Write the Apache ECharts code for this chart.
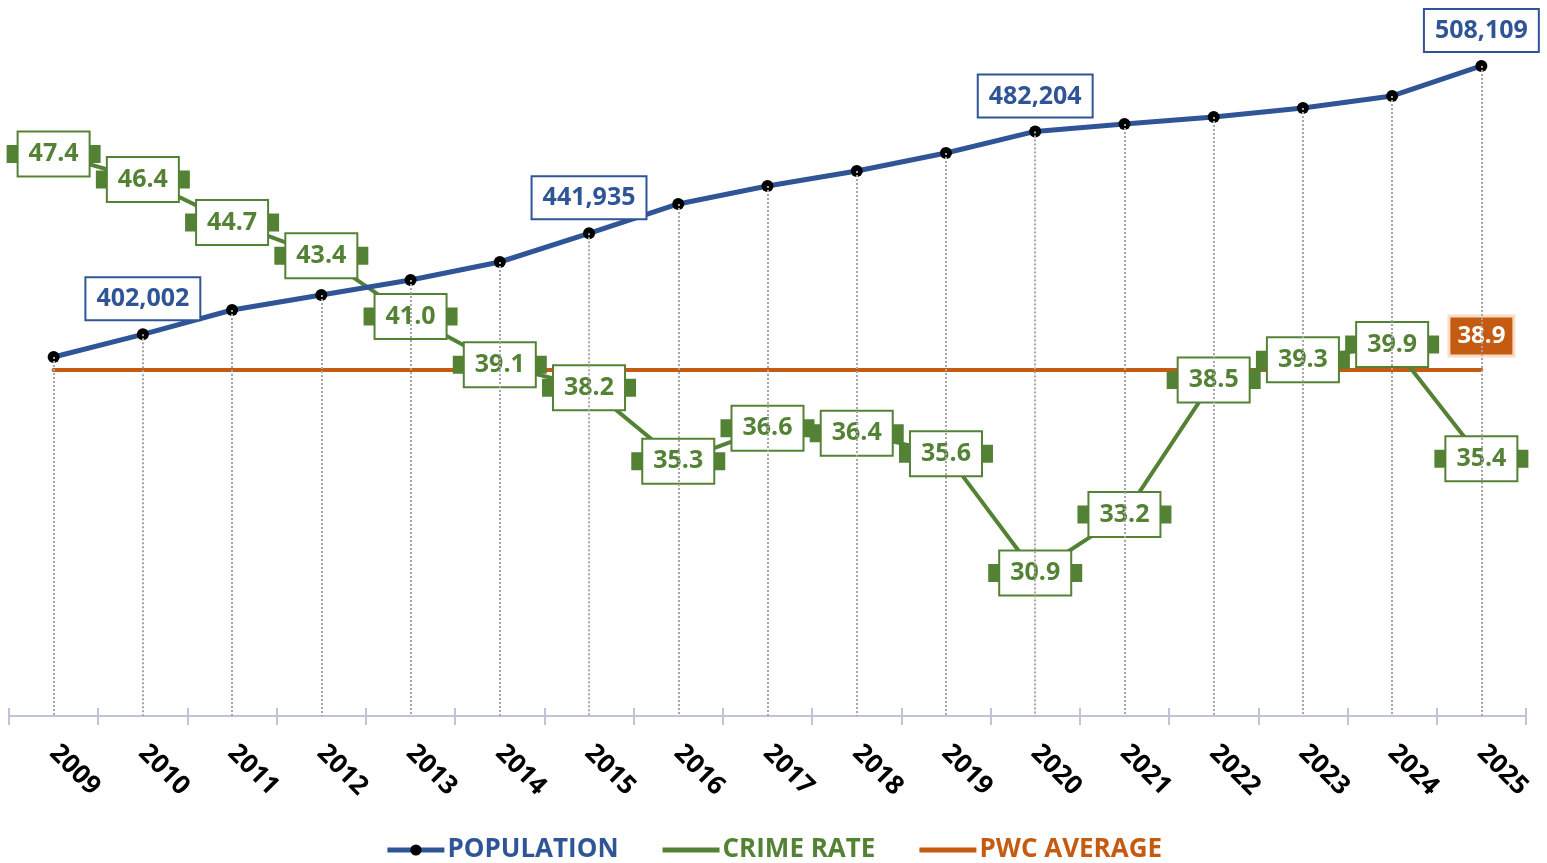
<!DOCTYPE html>
<html>
<head>
<meta charset="utf-8">
<script src="https://cdn.jsdelivr.net/npm/echarts@6/dist/echarts.min.js"></script>
<style>
  html, body { margin: 0; padding: 0; background: #fff; }
  #chart { width: 1547px; height: 863px; }
</style>
</head>
<body>
<div id="chart"></div>
<script>
const years = ['2009', '2010', '2011', '2012', '2013', '2014', '2015', '2016', '2017',
  '2018', '2019', '2020', '2021', '2022', '2023', '2024', '2025']
const population = [393030, 402002, 411610, 417540, 423470, 430585, 441935, 453520, 460630,
  466560, 473680, 482204, 485145, 487915, 491470, 496215, 508109]
const popLabelYears = ['2010', '2015', '2020', '2025']
const crimeRate = [47.4, 46.4, 44.7, 43.4, 41.0, 39.1, 38.2, 35.3, 36.6, 36.4, 35.6,
  30.9, 33.2, 38.5, 39.3, 39.9, 35.4]
const pwcAverage = 38.9

const BLUE = '#2F5597'
const GREEN = '#548235'
const ORANGE = '#C55A11'
const FONT = '"Open Sans", "DejaVu Sans", sans-serif'

const popMin = 251100
const popMax = 527840

const chart = echarts.init(document.getElementById('chart'))

chart.setOption({
  animation: false,
  textStyle: { fontFamily: FONT },
  grid: { left: 9, right: 21, top: 16, bottom: 147 },
  legend: {
    bottom: -5,
    left: 'center',
    itemWidth: 57,
    itemHeight: 14,
    itemGap: 44,
    lineStyle: { width: 5 },
    textStyle: { fontSize: 26, fontWeight: 'bold', fontFamily: FONT, padding: [0, 0, 0, -2] },
    data: [
      { name: 'POPULATION', textStyle: { color: BLUE } },
      { name: 'CRIME RATE', icon: 'path://M0,0 L57,0 L57,5 L0,5 Z', textStyle: { color: GREEN } },
      { name: 'PWC AVERAGE', icon: 'path://M0,0 L57,0 L57,5 L0,5 Z', textStyle: { color: ORANGE } },
    ],
  },
  xAxis: [
    {
      type: 'category',
      data: years,
      boundaryGap: true,
      axisLine: { lineStyle: { color: '#BFC5D6', width: 2 } },
      axisTick: { show: true, length: 9, lineStyle: { color: '#BFC5D6', width: 2 } },
      axisLabel: {
        rotate: -45,
        margin: 33,
        color: '#000',
        fontSize: 26,
        fontWeight: 'bold',
        fontFamily: FONT,
        interval: 0,
      },
      splitLine: { show: false },
    },
    {
      type: 'category',
      data: years,
      position: 'bottom',
      boundaryGap: true,
      axisLine: { show: false },
      axisTick: { show: true, inside: true, length: 8, lineStyle: { color: '#BFC5D6', width: 2 } },
      axisLabel: { show: false },
      splitLine: { show: false },
    },
  ],
  yAxis: [
    { type: 'value', show: false, min: popMin, max: popMax, splitLine: { show: false } },
    { type: 'value', show: false, min: 25.268, max: 52.838, splitLine: { show: false } },
  ],
  series: [
    {
      name: 'PWC AVERAGE',
      type: 'line',
      yAxisIndex: 1,
      z: 2,
      symbol: 'circle',
      symbolSize: 1,
      itemStyle: { color: ORANGE },
      lineStyle: { color: ORANGE, width: 4, cap: 'round' },
      data: years.map((y, i) => i === years.length - 1
        ? {
            value: pwcAverage,
            label: {
              show: true,
              position: 'top',
              distance: 15,
              formatter: (p) => p.value.toFixed(1),
              color: '#fff',
              fontSize: 24,
              fontWeight: 'bold',
              fontFamily: FONT,
              backgroundColor: ORANGE,
              borderColor: 'rgba(244,177,131,0.45)',
              borderWidth: 3,
              padding: [4, 7, 3, 7],
              lineHeight: 30,
            },
          }
        : pwcAverage),
    },
    {
      name: 'CRIME RATE',
      type: 'line',
      yAxisIndex: 1,
      z: 3,
      symbol: 'rect',
      symbolSize: [94, 18],
      itemStyle: { color: GREEN },
      lineStyle: { color: GREEN, width: 4 },
      label: {
        show: true,
        position: 'inside',
        formatter: (p) => p.value.toFixed(1),
        color: GREEN,
        fontSize: 25,
        fontWeight: 'bold',
        fontFamily: FONT,
        backgroundColor: '#fff',
        borderColor: GREEN,
        borderWidth: 2,
        padding: [7, 10, 6, 10],
        lineHeight: 30,
      },
      data: crimeRate,
    },
    {
      name: 'POPULATION',
      type: 'line',
      yAxisIndex: 0,
      z: 4,
      symbol: 'circle',
      symbolSize: 12,
      itemStyle: { color: '#000', borderWidth: 0 },
      lineStyle: { color: BLUE, width: 5 },
      label: { show: false },
      data: population.map((v, i) => popLabelYears.includes(years[i])
        ? {
            value: v,
            label: {
              show: true,
              position: 'top',
              distance: 9,
              formatter: (p) => p.value.toLocaleString('en-US'),
              color: BLUE,
              fontSize: 25,
              fontWeight: 'bold',
              fontFamily: FONT,
              backgroundColor: '#fff',
              borderColor: BLUE,
              borderWidth: 2,
              padding: [6, 10, 5, 10],
              lineHeight: 30,
            },
          }
        : v),
      markLine: {
        silent: true,
        symbol: 'none',
        label: { show: false },
        lineStyle: { color: '#A6A6A6', type: 'dotted', width: 2 },
        data: population.map((v, i) => [
          { coord: [i, v] },
          { coord: [i, popMin] },
        ]),
      },
    },
  ],
})
</script>
</body>
</html>
